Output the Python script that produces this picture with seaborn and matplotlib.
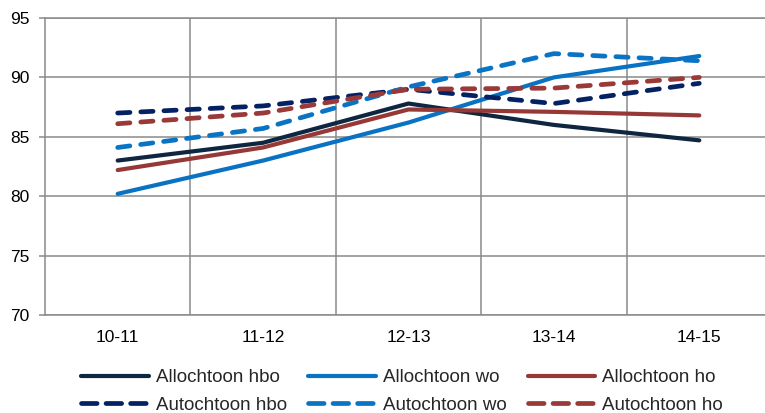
import matplotlib
matplotlib.use("Agg")
import matplotlib.pyplot as plt
import seaborn as sns
import pandas as pd

years = ["10-11", "11-12", "12-13", "13-14", "14-15"]
series_names = ["Allochtoon hbo", "Allochtoon wo", "Allochtoon ho",
                "Autochtoon hbo", "Autochtoon wo", "Autochtoon ho"]
allochtoon_hbo = [83.0, 84.5, 87.8, 86.0, 84.7]
allochtoon_wo = [80.2, 83.0, 86.2, 90.0, 91.8]
allochtoon_ho = [82.2, 84.1, 87.3, 87.1, 86.8]
autochtoon_hbo = [87.0, 87.6, 89.0, 87.8, 89.5]
autochtoon_wo = [84.1, 85.7, 89.2, 92.0, 91.4]
autochtoon_ho = [86.1, 87.0, 89.0, 89.1, 90.0]

values = [allochtoon_hbo, allochtoon_wo, allochtoon_ho,
          autochtoon_hbo, autochtoon_wo, autochtoon_ho]
colors = ["#0f2641", "#0a72c2", "#963836", "#032163", "#0a74c4", "#993a38"]

rows = []
for name, vals in zip(series_names, values):
    for y, v in zip(years, vals):
        rows.append({"year": y, "value": v, "series": name})
df = pd.DataFrame(rows)

sns.set_theme(style="white")
plt.rcParams["font.family"] = ["Liberation Sans", "DejaVu Sans"]

fig = plt.figure(figsize=(7.65, 4.13), dpi=100)
ax = fig.add_axes([45 / 765, (413 - 315) / 413, 727 / 765, 297 / 413])

LW_SOLID = 3.0
LW_DASH = 3.4
palette = dict(zip(series_names, colors))
dash_pat = (2.6, 2.3)
legend_dash_pat = (3.3, 1.9)
dashes = {n: ("" if n.startswith("Allo") else dash_pat) for n in series_names}

sns.lineplot(data=df, x="year", y="value", hue="series", style="series",
             hue_order=series_names, style_order=series_names,
             palette=palette, dashes=dashes, sort=False, linewidth=LW_SOLID,
             ax=ax, legend=True)

handles, labels = ax.get_legend_handles_labels()
hmap = dict(zip(labels, handles))


def style_line(ln, name, pat):
    ln.set_color(palette[name])
    if name.startswith("Auto"):
        ln.set_linewidth(LW_DASH)
        ln.set_linestyle((0, pat))
    else:
        ln.set_linewidth(LW_SOLID)
        ln.set_linestyle("-")
    ln.set_dash_capstyle("round")
    ln.set_solid_capstyle("round")
    ln.set_solid_joinstyle("round")


for ln, name in zip(ax.lines, series_names):
    style_line(ln, name, dash_pat)
for name, h in hmap.items():
    style_line(h, name, legend_dash_pat)

ax.set_xlim(-0.5, 4.5)
ax.set_ylim(70, 95)
ax.set_yticks([70, 75, 80, 85, 90, 95])
ax.set_xticks(range(len(years)))
ax.set_xticks([0.5, 1.5, 2.5, 3.5], minor=True)
ax.set_xlabel("")
ax.set_ylabel("")

gcol = "#8a8a8a"
ax.grid(False)
ax.grid(True, axis="y", which="major", color=gcol, linewidth=1.1)
ax.grid(True, axis="x", which="minor", color=gcol, linewidth=1.1)
ax.set_axisbelow(True)
for s in ["left", "bottom", "top"]:
    ax.spines[s].set_color(gcol)
    ax.spines[s].set_linewidth(1.1)
ax.spines["right"].set_visible(False)

ax.tick_params(axis="y", which="major", length=4, width=1.1, color=gcol,
               pad=7, labelsize=12.5, labelcolor="black", left=True)
ax.tick_params(axis="x", which="both", length=0, pad=11, labelsize=12.5,
               labelcolor="black", bottom=True)

ax.get_legend().remove()
order = ["Allochtoon hbo", "Autochtoon hbo", "Allochtoon wo",
         "Autochtoon wo", "Allochtoon ho", "Autochtoon ho"]
fig.legend([hmap[o] for o in order], order, ncol=3, frameon=False,
           loc="center left", bbox_to_anchor=(72 / 765, 1 - 391.5 / 413),
           borderpad=0, handlelength=3.6, handletextpad=0.4,
           columnspacing=1.1, labelspacing=0.55, fontsize=13.5)

fig.savefig("out.png", dpi=100)
